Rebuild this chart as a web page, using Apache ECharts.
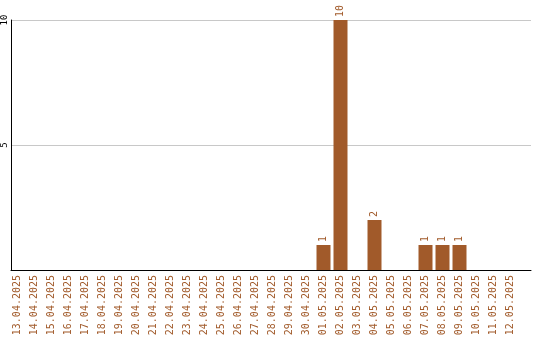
<!DOCTYPE html>
<html>
<head>
<meta charset="utf-8">
<script src="https://cdn.jsdelivr.net/npm/echarts@6/dist/echarts.min.js"></script>
<style>
  html, body { margin: 0; padding: 0; background: #fff; }
  #chart { width: 540px; height: 340px; }
</style>
</head>
<body>
<div id="chart"></div>
<script>
// Daily counts, 13.04.2025 – 12.05.2025
const dates = [
  '13.04.2025','14.04.2025','15.04.2025','16.04.2025','17.04.2025',
  '18.04.2025','19.04.2025','20.04.2025','21.04.2025','22.04.2025',
  '23.04.2025','24.04.2025','25.04.2025','26.04.2025','27.04.2025',
  '28.04.2025','29.04.2025','30.04.2025','01.05.2025','02.05.2025',
  '03.05.2025','04.05.2025','05.05.2025','06.05.2025','07.05.2025',
  '08.05.2025','09.05.2025','10.05.2025','11.05.2025','12.05.2025'
];
const counts = [
  0,0,0,0,0, 0,0,0,0,0, 0,0,0,0,0, 0,0,0,1,10, 0,2,0,0,1, 1,1,0,0,0
];
const yTicks = [0, 5, 10];

const barColor = '#a15a2a';
const mono = '"DejaVu Sans Mono", monospace';

const chart = echarts.init(document.getElementById('chart'), null, { renderer: 'canvas' });
chart.setOption({
  animation: false,
  backgroundColor: '#fff',
  grid: [
    { left: 10, right: 9, top: 20, bottom: 70 },
    { left: 9, width: 510, top: 20, bottom: 70 }
  ],
  xAxis: [
    {
      gridIndex: 0, type: 'value', min: 0, max: 1,
      axisLine: { show: true, onZero: false, lineStyle: { color: '#000', width: 1 } },
      axisTick: { show: false }, axisLabel: { show: false }, splitLine: { show: false }
    },
    {
      gridIndex: 1, type: 'category', data: dates,
      axisLine: { show: false }, axisTick: { show: false }, splitLine: { show: false },
      axisLabel: {
        interval: 0, rotate: 90, margin: 5,
        color: barColor, fontFamily: mono, fontSize: 10
      }
    }
  ],
  yAxis: [
    {
      gridIndex: 0, type: 'value', min: yTicks[0], max: yTicks[yTicks.length - 1], interval: 5,
      axisLine: { show: true, lineStyle: { color: '#000', width: 1 } },
      axisTick: { show: false },
      splitLine: { show: true, lineStyle: { color: '#c8c8c8', width: 1 } },
      axisLabel: {
        rotate: 90, margin: 2, color: '#000', fontFamily: mono, fontSize: 9,
        formatter: v => (v === 0 ? '' : String(v))
      }
    },
    {
      gridIndex: 1, type: 'value', min: yTicks[0], max: yTicks[yTicks.length - 1],
      show: false, splitLine: { show: false }
    }
  ],
  series: [{
    type: 'bar',
    xAxisIndex: 1, yAxisIndex: 1,
    data: counts,
    barWidth: 14,
    itemStyle: { color: barColor },
    label: {
      show: true, position: 'top', rotate: 90, distance: 3,
      align: 'left', verticalAlign: 'middle',
      color: barColor, fontFamily: mono, fontSize: 10,
      formatter: p => (p.value > 0 ? String(p.value) : '')
    }
  }]
});
</script>
</body>
</html>
